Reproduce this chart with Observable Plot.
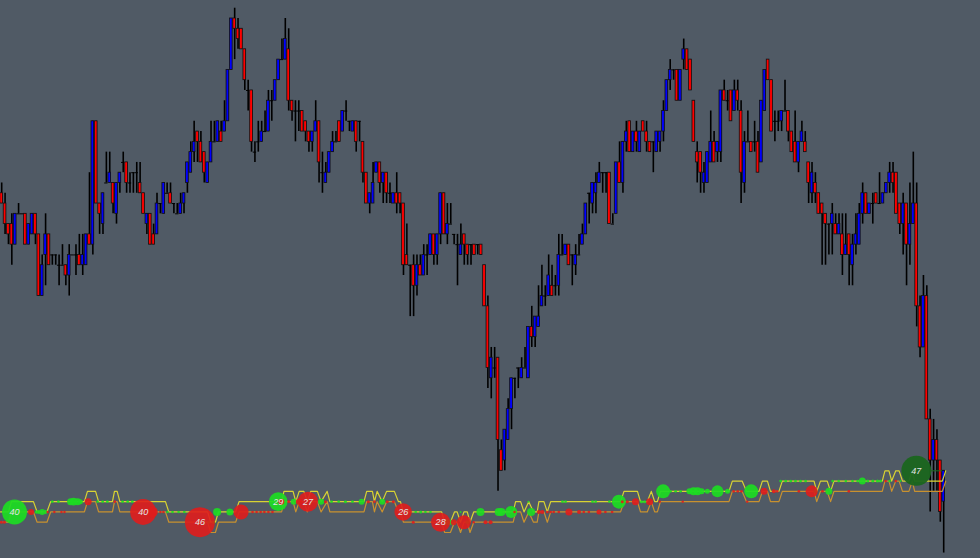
<!DOCTYPE html>
<html>
<head>
<meta charset="utf-8">
<script src="https://cdn.jsdelivr.net/npm/d3@7"></script>
<script src="https://cdn.jsdelivr.net/npm/@observablehq/plot@0.6"></script>
<style>
html,body{margin:0;padding:0;background:#505a65;overflow:hidden}
svg{display:block}
</style>
</head>
<body>
<div id="chart"></div>
<script>
const opens = [
17,18,20,20,22,19,19,19,22,21,
19,21,27,23,21,23,23,24,24,24,
25,23,23,23,24,24,21,22,10,18,
20,16,16,16,19,16,14,14,16,15,
15,16,17,20,19,21,21,18,19,17,
17,18,19,19,18,16,15,13,11,12,
13,16,14,12,12,11,11,10,5,0,
1,1,3,7,7,13,12,12,11,11,
8,8,6,4,4,3,8,9,9,9,
10,11,12,11,10,15,16,15,13,12,
10,11,9,10,11,10,10,12,15,18,
18,15,14,16,15,17,18,17,17,18,
23,24,24,26,24,25,23,23,21,23,
21,17,21,20,21,22,23,21,22,22,
22,22,22,24,28,35,34,33,42,43,
41,38,35,34,35,34,35,30,31,30,
28,27,27,26,26,26,23,23,22,23,
24,23,22,21,17,18,17,16,15,15,
15,20,19,14,16,12,10,13,11,13,
10,11,12,12,13,12,11,9,6,5,
5,8,4,3,4,8,13,13,16,16,
14,12,13,13,7,8,7,9,7,9,
16,12,12,12,12,14,9,4,6,10,
10,10,9,9,11,12,14,12,12,14,
17,16,17,18,19,20,20,20,21,21,
23,21,24,22,22,19,17,19,18,17,
18,18,17,16,15,15,18,20,18,22,
20,18,28,32,27,39,43,41,43,47];
const closes = [
18,20,21,22,19,19,19,22,20,19,
21,27,24,21,24,23,23,24,24,25,
23,23,23,24,23,21,22,10,18,19,
17,16,15,18,16,15,14,16,16,15,
15,17,19,19,22,22,18,18,16,17,
18,18,19,18,17,14,13,12,12,14,
15,14,12,12,10,12,10,5,0,1,
2,3,6,7,12,13,12,11,11,8,
8,6,4,4,2,8,9,9,9,11,
11,12,11,10,14,15,15,13,12,12,
12,9,9,10,10,12,10,15,18,17,
16,14,16,15,17,17,17,18,18,24,
24,24,26,24,25,23,23,21,23,21,
17,21,20,20,21,22,22,22,23,22,
23,22,23,28,34,33,34,41,44,40,
38,35,35,34,34,34,30,31,29,29,
27,27,25,27,26,23,23,22,24,23,
23,23,21,18,17,16,16,15,15,15,
20,20,14,16,12,11,13,11,12,11,
11,12,13,12,11,11,9,6,5,5,
8,5,3,5,7,12,14,15,15,13,
12,14,12,7,8,8,10,7,8,15,
12,12,13,12,15,8,5,6,11,10,
10,9,9,11,13,14,12,11,13,16,
15,17,19,19,20,20,19,21,20,23,
22,23,22,21,19,17,19,18,18,18,
18,17,16,15,16,19,20,18,22,20,
18,28,32,27,39,43,41,43,48,44];
const highs = [
16,17,20,19,19,18,19,19,20,19,
19,21,23,19,21,23,23,23,22,24,
22,23,22,21,21,21,15,10,10,18,
17,13,13,16,16,15,13,14,15,15,
14,14,17,19,19,20,17,18,16,16,
16,18,18,17,17,14,12,10,11,11,
13,14,10,10,10,10,8,5,0,-1,
0,1,3,6,7,12,10,10,9,7,
7,6,4,2,0,1,8,8,8,9,
10,11,11,8,10,13,14,13,11,11,
10,9,8,10,10,10,10,12,15,17,
14,14,14,15,15,16,17,15,17,18,
20,24,23,23,23,22,22,21,21,21,
17,17,18,18,21,21,20,21,22,22,
22,22,22,24,27,32,32,33,41,40,
37,35,35,34,33,32,30,28,29,26,
24,26,23,24,25,21,21,22,22,23,
22,21,20,18,17,16,15,14,15,15,
15,19,14,12,12,10,10,11,10,11,
10,10,12,12,11,11,8,6,4,5,
5,5,2,3,4,8,12,13,14,13,
9,11,12,7,6,7,7,6,6,8,
11,9,12,10,11,8,5,4,6,9,
9,9,6,9,11,9,12,10,11,14,
14,15,17,18,19,20,18,19,19,19,
19,21,21,19,18,16,17,18,17,17,
15,17,16,14,14,15,18,17,18,16,
13,16,27,25,26,38,39,40,43,44];
const lows = [
18,21,22,24,22,19,19,22,22,21,
22,27,27,26,24,24,24,26,24,26,
27,23,25,24,25,24,22,23,18,21,
21,16,16,19,20,17,15,17,17,17,
17,17,19,21,22,22,21,19,19,17,
18,19,19,19,19,17,15,14,14,14,
16,16,14,12,12,12,11,10,5,4,
3,3,7,9,13,14,13,12,11,11,
10,8,6,4,4,9,10,12,11,11,
12,13,13,11,16,17,16,15,13,12,
12,11,10,11,11,13,12,16,18,19,
18,15,17,18,18,18,18,19,19,25,
24,29,29,27,25,25,25,23,24,24,
22,21,22,20,22,26,23,24,24,24,
23,23,23,28,36,37,35,46,44,44,
41,40,37,36,35,34,35,32,32,30,
28,28,27,27,27,27,23,23,24,26,
25,23,22,21,20,19,19,16,17,17,
20,20,19,16,17,13,13,13,13,13,
11,13,13,15,13,13,12,9,7,6,
8,8,5,5,7,12,16,17,17,16,
14,14,14,14,8,9,10,9,9,18,
17,12,13,13,15,14,9,6,11,12,
11,11,9,12,13,14,15,12,13,18,
18,18,19,24,24,23,23,21,21,25,
23,26,26,23,22,20,19,19,20,18,
18,18,17,17,17,19,21,23,26,24,
20,30,33,32,39,48,46,46,49,52];

const channelBars = [-0.4,2,2.9,9.4,10.5,13.4,14.5,24.5,25.4,27.8,28.7,32.8,33.4,34.2,35,48.5,49.5,61,61.9,63.3,64.2,69.3,70.3,82.9,83.6,86.3,87.1,88.1,89.5,90.5,91.5,93.5,94.6,96.4,97.2,107.3,108.1,109.8,110.4,111.2,112.7,114,116.3,117.5,118.1,119,130.3,131.2,132.9,134.1,134.9,135.9,136.9,137.9,138.7,139.8,151.5,152.2,153.7,154.7,156.1,157.5,158.6,159.1,160.6,161.6,162.6,183.3,184.3,188.3,189.2,191.2,192.4,193.4,194.2,195.1,215.4,216.4,219.3,220.6,224.3,225.3,226.8,227.7,230.2,231.2,240.6,241.4,242.5,244.5,245.5,246.5,260.8,261.6,262.8,263.6,264.8,265.8,266.8,268.7,269.7,270.4,278.6,279.6];
const channelLower = [49,49,48,48,49,49,48,48,47,47,48,48,47,47,48,48,49,49,50,50,49,49,48,48,47,47,48,47,47,48,47,47,48,47,48,48,47,47,48,47,48,47,47,48,48,49,49,50,50,49,49,50,49,49,50,49,49,48,48,49,48,49,49,48,48,49,48,48,47,47,48,48,47,48,48,47,47,46,46,47,47,46,46,47,47,46,46,47,46,46,47,46,46,45,45,46,45,45,46,46,45,46,46,45];
const channelUpper = [48,48,47,47,48,48,47,47,46,46,47,47,46,46,47,47,48,48,49,49,48,48,47,47,46,46,47,46,46,47,46,46,47,46,47,47,46,46,47,46,47,46,46,47,47,48,48,49,49,48,48,49,48,48,49,48,48,47,47,48,47,48,48,47,47,48,47,47,46,46,47,47,46,47,47,46,46,45,45,46,46,45,45,46,46,45,45,46,45,45,46,45,45,44,44,45,44,44,45,45,44,45,45,44];

const greenBars = [3.8,10.3,11,12,13,15,16.8,20.4,21.3,22.5,23.3,28.4,29.9,31.3,35.8,37.3,38.7,49.1,50.6,52.4,54.1,61.3,62.7,63.8,67.6,81.9,86.5,94.6,97.7,99.8,101.8,103.9,106.6,112.7,122.6,124.1,125.5,127,132,133.2,138,135.9,141.8,147.2,148,150.9,156.8,156,166.1,167,175,175.9,180,182.8,189.5,190.4,195.9,198.1,199.6,201.1,203.7,204.9,206.1,207.3,209,212,215,222,241,245,230.7,232.2,233.7,235.1,236.6,238.1,246.1,247.9,250,252,253.5,254.9,256.5,258,259.4,260.3,263,266.2];
const greenLevels = [48,48,48,48,48,47,47,47,47,47,47,47,47,47,47,47,47,48,48,48,48,49,49,48,48,47,47,47,47,47,47,47,47,47,48,48,48,48,49,49,49,48,48,48,48,48,48,47,47,47,47,47,47,47,47,47,46,46,46,46,46,46,46,46,46,46,46,46,46,46,45,45,45,45,45,45,45,45,45,45,45,45,45,45,45,45,45,45];
const greenSizes = [12.5,1.8,2,3,2,1.3,1.3,3.5,3.8,3.5,2.5,1.3,1.3,1.3,1.3,1.3,1.3,1.3,1.3,1.3,1.3,1.5,1.8,4,3.5,9.3,3,3,1.3,1.3,1.5,1.3,3,3,1.3,1.5,1.3,1.3,3,2.5,2,1,4,4,4,6,4,1,1.3,1.3,1.3,1.3,1.3,7,1.5,1.5,7,1.3,1.3,1.3,3,4,4,3,2.5,6,2.5,7,2,3.5,1.4,1.4,1.4,1.4,1.4,1.4,1.3,1.3,1.3,1.3,1.3,3.5,1.5,1.5,1.5,1.5,1.3,1];

const redBars = [-0.1,0.8,8.7,13.6,15.6,17.7,18.6,25.6,33.5,41.9,44.6,47,47.9,58.7,70.9,74.3,75.5,76.7,77.8,79,80.2,82.8,85,88,90.7,95.9,108.6,110.4,114.2,116,118.9,121.9,130,133.9,136.9,139.8,143.3,144.8,151.9,159.1,160.1,161.6,162.6,163.5,165,168,171,172.4,173.9,176.9,178.8,180.8,183.8,185.3,187.7,191.9,194.9,201.7,216.8,218,219.1,220.8,225.8,228.7,229.7,236.1,239.9,243.1,250.9,261.8,264.8];
const redLevels = [49,49,48,48,48,48,48,47,47,48,48,48,48,49,48,48,48,48,48,48,48,47,47,47,47,47,47,47,47,47,48,49,49,49,49,49,49,49,48,48,48,48,48,48,48,48,48,48,48,48,48,48,47,47,47,47,47,47,46,46,46,47,46,46,46,46,46,46,46,45,45];
const redSizes = [1.5,1.5,3,1.2,1.2,1.2,1.2,3.5,1.3,13,5.5,1.2,1.2,15,7.5,1.3,1.3,1.3,1.3,1.3,1.3,3,1.3,3,10,1.5,1.5,1.3,1.5,1.5,8.7,1.5,9.5,3,7,1.2,2,2,1.3,2,2,1.3,1.3,1.3,1.3,3.5,2,1.3,1.3,2.5,1.3,1.3,1.5,1.5,3.5,3.5,1.2,1.2,1.3,1.3,1.3,1.2,3.5,2,1.3,1.3,6,1.3,1.3,1.3,1.3];

const darkBars = [270.9];
const darkLevels = [44];
const darkSizes = [15];
const darkLinkStart = [275.1];
const darkLinkEnd = [278.6];

const labelBars = [3.8,41.9,58.7,81.9,90.7,118.9,130,270.9];
const labelLevels = [48,48,49,47,47,48,49,44];
const labelTexts = ["40","40","46","29","27","26","28","47"];

const bars = opens.map((o, i) => ({bar: i, open: o, close: closes[i], high: highs[i], low: lows[i]}));
const bodies = bars.filter(d => d.open !== d.close);
const flats = bars.filter(d => d.open === d.close);

const plot = Plot.plot({
  width: 980,
  height: 558,
  margin: 0,
  style: {background: "#505a65", display: "block"},
  x: {axis: null, domain: [-0.355, 289.9], range: [0, 980]},
  y: {axis: null, domain: [-1.751, 52.53], range: [0, 558]},
  r: {type: "identity"},
  marks: [
    Plot.ruleX(bars, {x: "bar", y1: "high", y2: "low", stroke: "#000", strokeWidth: 1.6}),
    Plot.ruleY(flats, {y: "open", x1: d => d.bar - 0.5, x2: d => d.bar + 0.5, stroke: "#000", strokeWidth: 1}),
    Plot.rect(bodies, {
      x1: d => d.bar - 0.4,
      x2: d => d.bar + 0.4,
      y1: "open",
      y2: "close",
      fill: d => d.close > d.open ? "#ff0000" : "#0000ff",
      stroke: "#111",
      strokeWidth: 0.8
    }),
    Plot.line(channelBars, {x: channelBars, y: channelLower, stroke: "#c8912f", strokeWidth: 1.2}),
    Plot.line(channelBars, {x: channelBars, y: channelUpper, stroke: "#d9d332", strokeWidth: 1.2}),
    Plot.dot(greenBars, {x: greenBars, y: greenLevels, r: greenSizes, fill: "#1cdc22", fillOpacity: 0.92, stroke: "none"}),
    Plot.dot(redBars, {x: redBars, y: redLevels, r: redSizes, fill: "#e01c1c", fillOpacity: 0.9, stroke: "none"}),
    Plot.ruleY(darkLevels, {y: darkLevels, x1: darkLinkStart, x2: darkLinkEnd, stroke: "#1f6a22", strokeWidth: 1}),
    Plot.dot(darkBars, {x: darkBars, y: darkLevels, r: darkSizes, fill: "#1a661e", fillOpacity: 0.95, stroke: "none"}),
    Plot.text(labelBars, {x: labelBars, y: labelLevels, text: labelTexts, fill: "#e4e4e4", fontSize: 9, fontStyle: "italic", fontFamily: "Liberation Sans"})
  ]
});
document.getElementById("chart").appendChild(plot);
</script>
</body>
</html>
